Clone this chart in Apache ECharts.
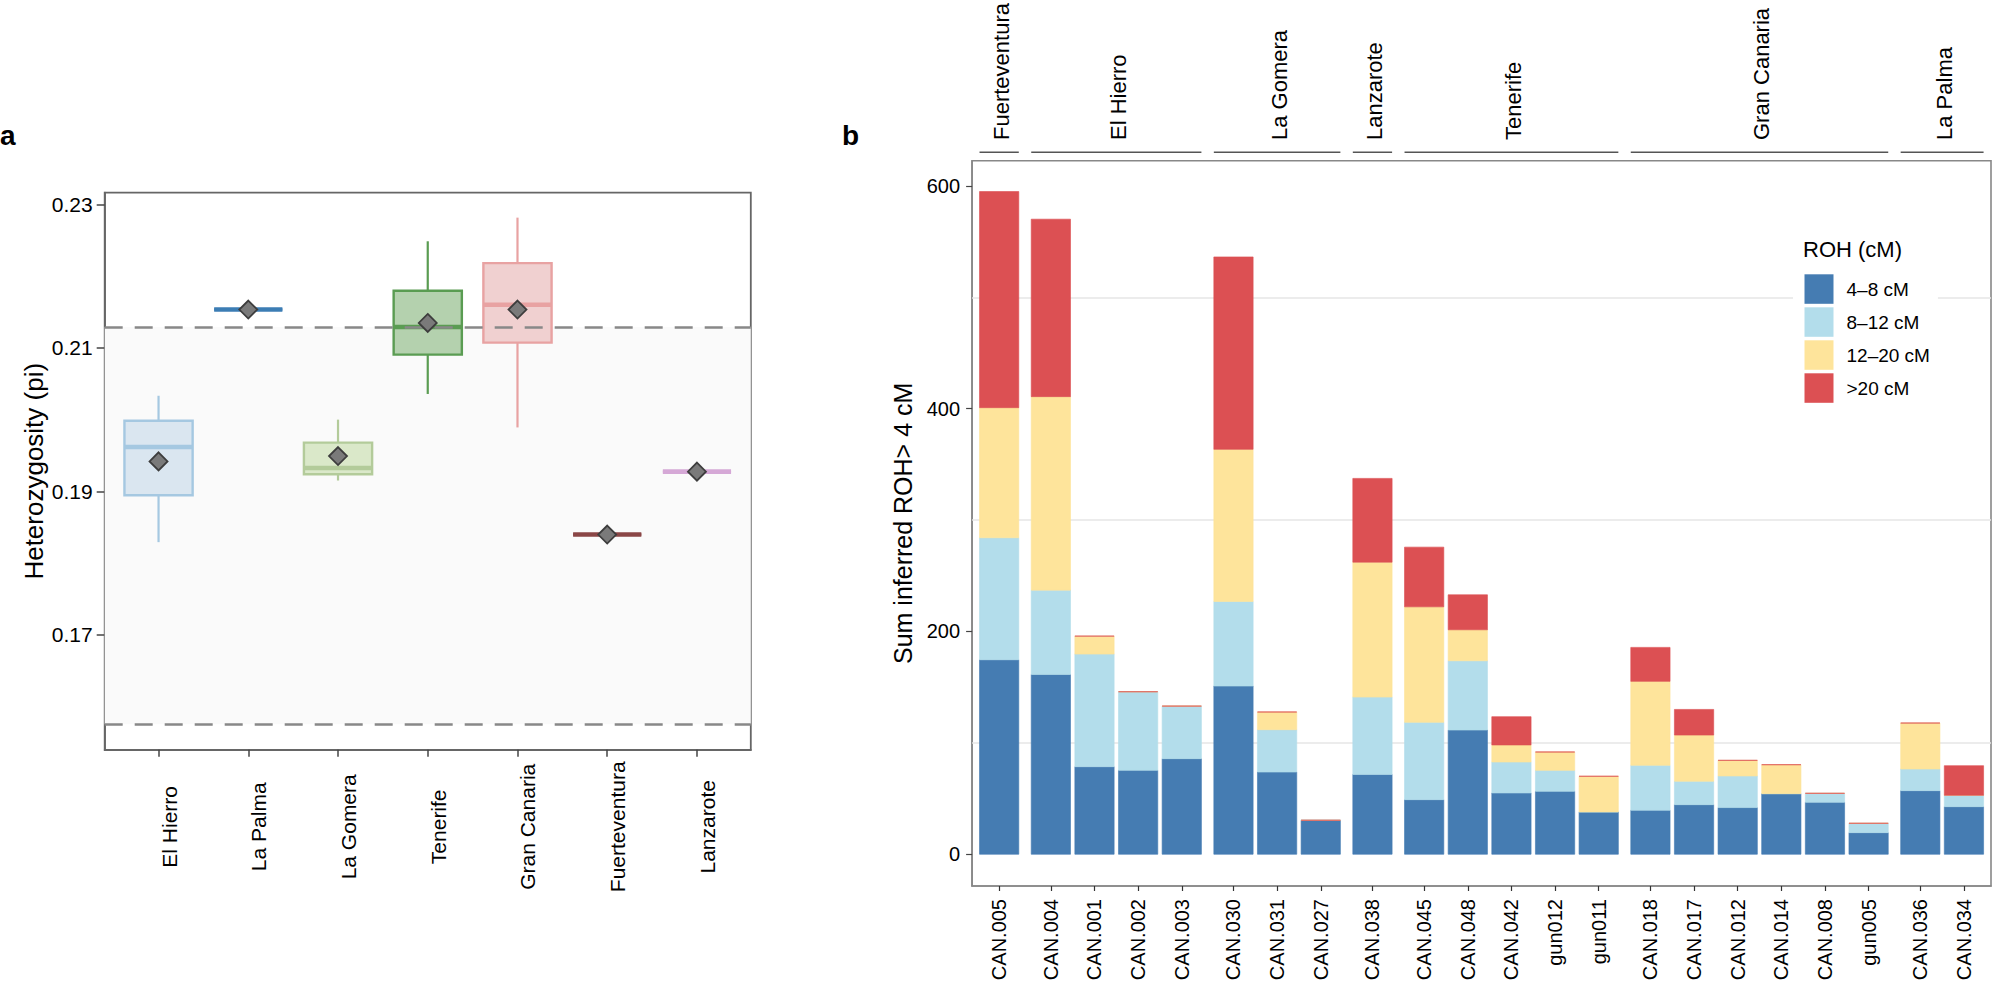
<!DOCTYPE html>
<html><head><meta charset="utf-8">
<script src="https://cdn.jsdelivr.net/npm/echarts@6/dist/echarts.min.js"></script>
<style>html,body{margin:0;padding:0;background:#fff}#c{width:2000px;height:995px}</style>
</head><body><div id="c"></div>
<script>
// ---------- Panel a data ----------
const islands = ['El Hierro','La Palma','La Gomera','Tenerife','Gran Canaria','Fuerteventura','Lanzarote'];
const hetMin    = [0.1829, 0.21536, 0.1915, 0.20358, 0.19891, 0.18396, 0.19274];
const hetQ1     = [0.18944, 0.21536, 0.19237, 0.20907, 0.21075, 0.18396, 0.19274];
const hetMedian = [0.19617, 0.21536, 0.19324, 0.21293, 0.21604, 0.18396, 0.19274];
const hetQ3     = [0.19984, 0.21536, 0.19679, 0.21798, 0.22184, 0.18396, 0.19274];
const hetMax    = [0.20333, 0.21536, 0.2000, 0.22489, 0.22819, 0.18396, 0.19274];
const hetMean   = [0.19417, 0.21536, 0.19492, 0.21349, 0.21536, 0.18396, 0.19274];
const refLines  = [0.21293, 0.15748];
const hetTicks  = [0.17, 0.19, 0.21, 0.23];

// ---------- Panel b data ----------
const samples = ['CAN.005','CAN.004','CAN.001','CAN.002','CAN.003','CAN.030','CAN.031','CAN.027','CAN.038',
  'CAN.045','CAN.048','CAN.042','gun012','gun011','CAN.018','CAN.017','CAN.012','CAN.014','CAN.008','gun005','CAN.036','CAN.034'];
const sampleIsland = ['Fuerteventura','El Hierro','El Hierro','El Hierro','El Hierro','La Gomera','La Gomera','La Gomera','Lanzarote',
  'Tenerife','Tenerife','Tenerife','Tenerife','Tenerife','Gran Canaria','Gran Canaria','Gran Canaria','Gran Canaria','Gran Canaria','Gran Canaria','La Palma','La Palma'];
const roh4_8   = [174.6, 161.4, 78.6, 75.3, 85.8, 151.0, 73.8, 30.5, 71.7, 49.0, 111.5, 55.0, 56.5, 38.0, 39.5, 44.5, 41.9, 54.4, 46.6, 19.4, 57.1, 42.7];
const roh8_12  = [109.5, 75.7, 101.1, 70.6, 47.2, 75.9, 38.0, 0, 69.4, 69.4, 62.2, 27.8, 18.8, 0, 40.3, 21.0, 28.4, 0, 8.1, 8.4, 19.4, 10.2];
const roh12_20 = [116.8, 173.7, 16.1, 0, 0, 136.6, 15.9, 0, 121.1, 103.7, 27.8, 15.3, 16.5, 32.0, 75.4, 41.5, 14.0, 26.0, 0, 0, 41.3, 0];
const roh20    = [194.0, 159.3, 0, 0, 0, 172.7, 0, 0, 75.2, 53.6, 31.4, 25.4, 0, 0, 30.5, 23.0, 0, 0, 0, 0, 0, 26.6];
const rohClasses = ['4–8 cM', '8–12 cM', '12–20 cM', '>20 cM'];
const rohTicks = [0, 200, 400, 600];
const rohGridLines = [100, 300, 500];

// ---------- styles ----------
const FONT = "'Liberation Sans', Arial, Helvetica, sans-serif";
const boxStroke = ['#a5c8e1','#3c7db4','#b3cb9a','#5a9c52','#e8a2a2','#8a4646','#d5a8d6'];
const boxFill   = ['#dae6f0','#3c7db4','#dae8c9','#b4d1ae','#f0d0d0','#8a4646','#d5a8d6'];
const rohColors = ['#457cb2', '#b3ddeb', '#fee49b', '#dc5053'];
const GROUP_GAP = 0.185;

// positions of bars (facet-like gaps between islands)
const barPos = [];
const groups = [];
{
  let g = -1, prev = null;
  sampleIsland.forEach((isl, i) => {
    if (isl !== prev) { g++; groups.push({name: isl, first: i, last: i}); prev = isl; }
    groups[g].last = i;
    barPos.push(i + GROUP_GAP * g);
  });
}
const rohSeries = [roh4_8, roh8_12, roh12_20, roh20];

function stackData(k) {
  return samples.map((s, i) => {
    let base = 0;
    for (let j = 0; j < k; j++) base += rohSeries[j][i];
    return [barPos[i], base, base + rohSeries[k][i]];
  });
}

function renderSeg(params, api) {
  const x = api.value(0);
  const p0 = api.coord([x, api.value(1)]);
  const p1 = api.coord([x, api.value(2)]);
  const w = api.size([0.9, 0])[0];
  const c = api.visual('color');
  return {type: 'rect', shape: {x: p0[0] - w / 2, y: p1[1], width: w, height: p0[1] - p1[1]},
    style: {fill: c, stroke: c, lineWidth: 0.9, strokeOpacity: 0.7}};
}

function renderBox(params, api) {
  const i = params.dataIndex;
  const x = api.value(0);
  const pMin = api.coord([x, api.value(1)]);
  const pQ1 = api.coord([x, api.value(2)]);
  const pMed = api.coord([x, api.value(3)]);
  const pQ3 = api.coord([x, api.value(4)]);
  const pMax = api.coord([x, api.value(5)]);
  const w = api.size([0.76, 0])[0];
  return {type: 'group', children: [
    {type: 'line', shape: {x1: pMin[0], y1: pMin[1], x2: pMax[0], y2: pMax[1]}, style: {stroke: boxStroke[i], lineWidth: 2.2}},
    {type: 'rect', shape: {x: pQ3[0] - w / 2, y: pQ3[1], width: w, height: pQ1[1] - pQ3[1]},
      style: {fill: boxFill[i], stroke: boxStroke[i], lineWidth: 2.4}},
    {type: 'line', shape: {x1: pMed[0] - w / 2, y1: pMed[1], x2: pMed[0] + w / 2, y2: pMed[1]},
      style: {stroke: boxStroke[i], lineWidth: 4.6}}
  ]};
}

function renderStrip(params, api) {
  const g = groups[params.dataIndex];
  const a = api.coord([api.value(0) - 0.45, 0]);
  const b = api.coord([api.value(1) + 0.45, 0]);
  const top = params.coordSys.y;
  return {type: 'group', children: [
    {type: 'line', shape: {x1: a[0], y1: top - 8.4, x2: b[0], y2: top - 8.4}, style: {stroke: '#555', lineWidth: 1.5}},
    {type: 'text', x: (a[0] + b[0]) / 2 + 2, y: top - 20.7, rotation: Math.PI / 2,
      style: {text: g.name, x: 0, y: 0, fontSize: 22, fontFamily: FONT, fill: '#000', align: 'left', verticalAlign: 'middle'}}
  ]};
}

const chart = echarts.init(document.getElementById('c'), null, {renderer: 'svg', width: 2000, height: 995});

const catTicks = islands.map((_, i) => i + 1);

const option = {
  backgroundColor: '#fff',
  animation: false,
  textStyle: {fontFamily: FONT},
  title: [
    {text: 'a', left: 0, top: 121, padding: 0, textStyle: {fontSize: 28, fontWeight: 'bold', color: '#000', fontFamily: FONT}},
    {text: 'b', left: 842, top: 121, padding: 0, textStyle: {fontSize: 28, fontWeight: 'bold', color: '#000', fontFamily: FONT}},
    {text: 'ROH (cM)', left: 1803, top: 238, padding: 0, textStyle: {fontSize: 22, fontWeight: 'normal', color: '#000', fontFamily: FONT}}
  ],
  legend: {
    data: rohClasses, orient: 'vertical', left: 1793, top: 274.3, padding: [0, 8, 0, 11.5],
    backgroundColor: '#fff', itemWidth: 29, itemHeight: 29.5, itemGap: 3.5, icon: 'rect', selectedMode: false,
    textStyle: {fontSize: 19, color: '#000', fontFamily: FONT, padding: [0, 0, 0, 8]}
  },
  grid: [
    {left: 104.7, top: 192.7, width: 646.1, height: 557.1, show: true, borderColor: '#666', borderWidth: 1.8, backgroundColor: '#fff', containLabel: false, outerBoundsMode: 'none'},
    {left: 972.1, top: 160.7, width: 1018.9, height: 725.3, show: true, borderColor: '#888', borderWidth: 1.6, backgroundColor: '#fff', containLabel: false, outerBoundsMode: 'none'}
  ],
  xAxis: [
    {gridIndex: 0, type: 'value', min: 0.4, max: 7.6,
      axisLine: {show: true, onZero: false, lineStyle: {color: '#666', width: 1.8}},
      axisTick: {show: true, customValues: catTicks, length: 7, lineStyle: {color: '#444', width: 1.5}},
      axisLabel: {show: true, customValues: catTicks, rotate: 90, align: 'center', verticalAlign: 'top', margin: 77,
        fontSize: 21, color: '#000', fontFamily: FONT, formatter: v => islands[Math.round(v) - 1]},
      splitLine: {show: false}},
    {gridIndex: 1, type: 'value', min: -0.62, max: 22.73,
      axisLine: {show: true, onZero: false, lineStyle: {color: '#888', width: 1.6}},
      axisTick: {show: true, customValues: barPos, length: 5, lineStyle: {color: '#333', width: 1.2}},
      axisLabel: {show: true, customValues: barPos, rotate: 90, margin: 13, fontSize: 20, color: '#000', fontFamily: FONT,
        formatter: v => { const i = barPos.findIndex(p => Math.abs(p - v) < 1e-6); return i >= 0 ? samples[i] : ''; }},
      splitLine: {show: false}}
  ],
  yAxis: [
    {gridIndex: 0, type: 'value', min: 0.15392, max: 0.23167,
      name: 'Heterozygosity (pi)', nameLocation: 'middle', nameGap: 58,
      nameTextStyle: {fontSize: 26, color: '#000', fontFamily: FONT},
      axisLine: {show: true, onZero: false, lineStyle: {color: '#666', width: 1.8}},
      axisTick: {show: true, customValues: hetTicks, length: 8, lineStyle: {color: '#444', width: 1.5}},
      axisLabel: {show: true, customValues: hetTicks, margin: 12, fontSize: 21, color: '#000', fontFamily: FONT, formatter: v => v.toFixed(2)},
      splitLine: {show: false}},
    {gridIndex: 1, type: 'value', min: -28.5, max: 622.6,
      name: 'Sum inferred ROH> 4 cM', nameLocation: 'middle', nameGap: 50,
      nameTextStyle: {fontSize: 25, color: '#000', fontFamily: FONT},
      axisLine: {show: true, onZero: false, lineStyle: {color: '#888', width: 1.6}},
      axisTick: {show: true, customValues: rohTicks, length: 6, lineStyle: {color: '#444', width: 1.2}},
      axisLabel: {show: true, customValues: rohTicks, margin: 12, fontSize: 20, color: '#000', fontFamily: FONT},
      splitLine: {show: false}}
  ],
  series: [
    {type: 'custom', name: 'boxes', xAxisIndex: 0, yAxisIndex: 0, z: 2, silent: true,
      data: islands.map((_, i) => [i + 1, hetMin[i], hetQ1[i], hetMedian[i], hetQ3[i], hetMax[i]]),
      encode: {x: 0, y: [1, 2, 3, 4, 5]}, renderItem: renderBox,
      markArea: {silent: true, z: 1, itemStyle: {color: '#fafafa'}, label: {show: false},
        data: [[{yAxis: refLines[1]}, {yAxis: refLines[0]}]]},
      markLine: {silent: true, z: 5, precision: 6, symbol: ['none', 'none'], label: {show: false},
        lineStyle: {color: '#888', width: 2.7, type: [18, 12]}, emphasis: {disabled: true},
        data: refLines.map(v => ({yAxis: v}))}},
    {type: 'scatter', name: 'mean', xAxisIndex: 0, yAxisIndex: 0, z: 10, silent: true,
      symbol: 'diamond', symbolSize: [18, 18],
      itemStyle: {color: '#7a7a7a', borderColor: '#3d3d3d', borderWidth: 1.8, opacity: 1},
      data: islands.map((_, i) => [i + 1, hetMean[i]])},
    ...rohClasses.map((name, k) => ({
      type: 'custom', name, xAxisIndex: 1, yAxisIndex: 1, z: 2, silent: true,
      itemStyle: {color: rohColors[k]}, encode: {x: 0, y: [1, 2]},
      data: stackData(k), renderItem: renderSeg,
      markLine: k === 0 ? {silent: true, z: 1, precision: 6, symbol: ['none', 'none'], label: {show: false},
        lineStyle: {color: '#e6e6e6', width: 1.5, type: 'solid'}, emphasis: {disabled: true},
        data: rohGridLines.map(v => ({yAxis: v}))} : undefined
    })),
    {type: 'custom', name: 'strips', xAxisIndex: 1, yAxisIndex: 1, z: 3, silent: true, clip: false,
      data: groups.map(g => [barPos[g.first], barPos[g.last]]), encode: {x: [0, 1]},
      renderItem: renderStrip}
  ]
};
chart.setOption(option);
</script>
</body></html>
